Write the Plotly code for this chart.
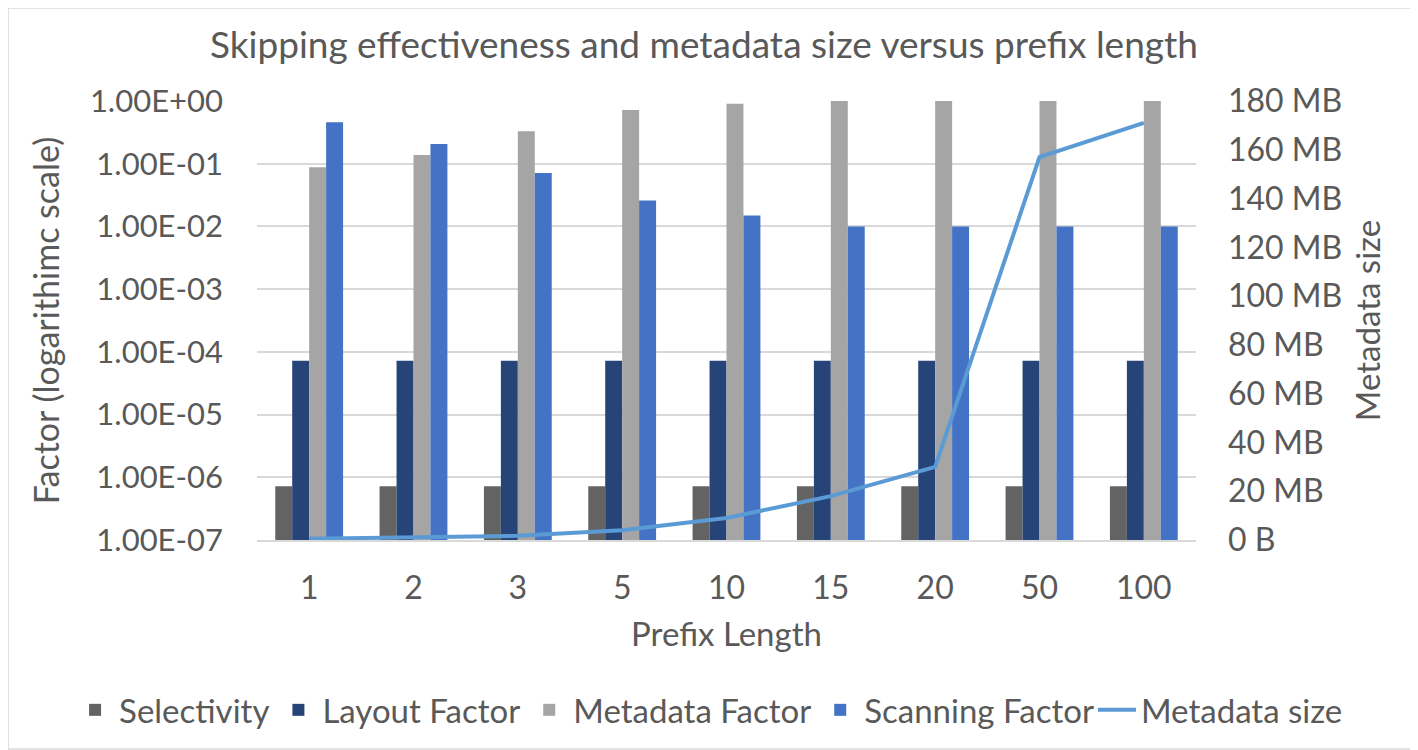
import plotly.graph_objects as go

prefix_lengths = ["1", "2", "3", "5", "10", "15", "20", "50", "100"]
selectivity = [7.2e-7] * 9
layout_factor = [7.2e-5] * 9
metadata_factor = [0.088, 0.138, 0.33, 0.72, 0.9, 1.0, 1.0, 1.0, 1.0]
scanning_factor = [0.46, 0.207, 0.071, 0.026, 0.015, 0.01, 0.01, 0.01, 0.01]
metadata_size_mb = [0.5, 1.0, 1.7, 4.0, 9.0, 18.0, 30.0, 157.0, 171.0]

log_ticks = [1e-7, 1e-6, 1e-5, 1e-4, 1e-3, 1e-2, 1e-1, 1]
log_tick_labels = ["1.00E-07", "1.00E-06", "1.00E-05", "1.00E-04",
                   "1.00E-03", "1.00E-02", "1.00E-01", "1.00E+00"]
size_ticks = [0, 20, 40, 60, 80, 100, 120, 140, 160, 180]
size_tick_labels = ["0 B"] + [f"{v} MB" for v in size_ticks[1:]]

text_color = "#595959"
grid_color = "#d9d9d9"

# the page body has an 8px margin, so the figure is 8px smaller than the window
W, H = 1410, 742
ml, mt, mr, mb = 249, 93, 222, 210
pw, ph = W - ml - mr, H - mt - mb

fig = go.Figure()

bars = [
    ("Selectivity", selectivity, "#636363"),
    ("Layout Factor", layout_factor, "#264478"),
    ("Metadata Factor", metadata_factor, "#a5a5a5"),
    ("Scanning Factor", scanning_factor, "#4472c4"),
]
for name, vals, color in bars:
    fig.add_trace(go.Bar(x=prefix_lengths, y=vals, name=name,
                         marker=dict(color=color, line=dict(width=0))))

# line trace gets its own legend so the whole legend fits on one row
fig.add_trace(go.Scatter(x=prefix_lengths, y=metadata_size_mb, name="Metadata size",
                         mode="lines", yaxis="y2", legend="legend2",
                         line=dict(color="#5b9bd5", width=4)))

legend_style = dict(orientation="h", yref="paper", y=-0.387, yanchor="middle",
                    xanchor="left", font=dict(size=33), itemwidth=38,
                    tracegroupgap=0, traceorder="normal", bgcolor="rgba(0,0,0,0)")

fig.update_layout(
    width=W, height=H,
    margin=dict(l=ml, r=mr, t=mt, b=mb),
    paper_bgcolor="white", plot_bgcolor="white",
    font=dict(family="Lato", size=32, color=text_color),
    title=dict(text="Skipping effectiveness and metadata size versus prefix length",
               x=0.4936, xanchor="center", yref="container", y=0.95, yanchor="middle",
               font=dict(size=37, color=text_color)),
    barmode="group", bargap=0.35, bargroupgap=0,
    xaxis=dict(type="category", title=dict(text="Prefix Length", standoff=18,
                                           font=dict(size=33)),
               showgrid=False, showline=True, linecolor=grid_color, linewidth=1.5,
               ticks="", ticklabelstandoff=19),
    yaxis=dict(type="log", range=[-7, 0], tickvals=log_ticks, ticktext=log_tick_labels,
               title=dict(text="Factor (logarithimc scale)", standoff=19,
                          font=dict(size=34)),
               gridcolor=grid_color, gridwidth=1.5, zeroline=False, ticks="",
               ticklabelstandoff=33, tickfont=dict(size=31)),
    yaxis2=dict(overlaying="y", side="right", range=[0, 180],
                tickvals=size_ticks, ticktext=size_tick_labels,
                title=dict(text="Metadata size", standoff=15, font=dict(size=33)),
                showgrid=False, zeroline=False, ticks="", ticklabelstandoff=31),
    legend=dict(legend_style, x=-0.198),
    legend2=dict(legend_style, x=0.8903),
    shapes=[dict(type="rect", xref="paper", yref="paper",
                 x0=-ml / pw, x1=1 + (mr - 1) / pw,
                 y0=-(mb - 1) / ph, y1=1 + mt / ph,
                 line=dict(color="#d9d9d9", width=1.5))],
)

fig.write_html("out.html")
